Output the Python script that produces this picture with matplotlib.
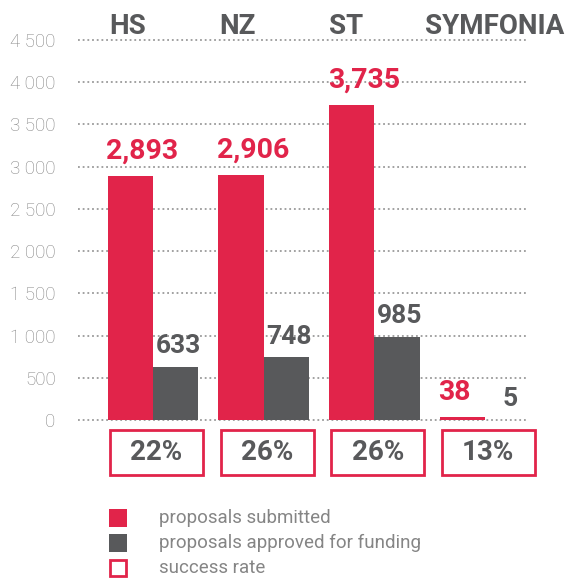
import matplotlib
matplotlib.use('Agg')
import matplotlib.pyplot as plt
from matplotlib.patches import Rectangle
import numpy as np

# Data
categories = ['HS', 'NZ', 'ST', 'SYMFONIA']
submitted = [2893, 2906, 3735, 38]
approved = [633, 748, 985, 5]
success_rate = ['22%', '26%', '26%', '13%']
y_ticks = [0, 500, 1000, 1500, 2000, 2500, 3000, 3500, 4000, 4500]
legend_labels = ['proposals submitted', 'proposals approved for funding', 'success rate']

RED = '#e1244a'
GREY = '#58595b'
TICK = '#858585'

plt.rcParams['font.family'] = ['Roboto', 'DejaVu Sans']

fig = plt.figure(figsize=(5.68, 5.79), dpi=100)
ax = fig.add_axes([0.137, 0.2746, 0.791, 0.6563])

x = np.arange(len(categories))
w = 0.41
ax.bar(x - w / 2, submitted, w, color=RED, zorder=3)
ax.bar(x + w / 2, approved, w, color=GREY, zorder=3)

ax.set_xlim(-0.68, 3.38)
ax.set_ylim(0, 4500)
ax.set_yticks(y_ticks)
ax.set_yticklabels([f'{v:,}'.replace(',', ' ') for v in y_ticks],
                   color=TICK, fontsize=13.5, fontweight='light')
ax.tick_params(axis='y', length=0, pad=16)
ax.set_xticks([])
for s in ax.spines.values():
    s.set_visible(False)
for v in y_ticks:
    ax.axhline(v, color='#9a9a9a', lw=1.3, ls=(0, (1, 1.6)), zorder=1, clip_on=False)

# value labels
for i in range(len(categories)):
    ax.annotate(f'{submitted[i]:,}', (x[i] - w, submitted[i]), xytext=(-1, 8),
                textcoords='offset points', ha='left', va='bottom',
                color=RED, fontsize=20.5, fontweight='bold')
    ax.annotate(f'{approved[i]:,}', (x[i] + w / 2, approved[i]), xytext=(2, 6),
                textcoords='offset points', ha='center', va='bottom',
                color=GREY, fontsize=19, fontweight='bold')

# category titles above the plot
title_off = [-0.23, -0.24, -0.26, 0.09]
for i, c in enumerate(categories):
    ax.text(x[i] + title_off[i], 1.016, c, transform=ax.get_xaxis_transform(),
            ha='center', va='baseline', color=GREY, fontsize=20, fontweight='bold')

# success rate boxes under the bars
for i, r in enumerate(success_rate):
    ax.add_patch(Rectangle((x[i] - 0.39, -0.145), 0.84, 0.118,
                           transform=ax.get_xaxis_transform(), fill=False,
                           edgecolor=RED, lw=2, clip_on=False))
    ax.text(x[i] + 0.03, -0.086, r, transform=ax.get_xaxis_transform(),
            ha='center', va='center', color=GREY, fontsize=20, fontweight='bold')

# legend drawn by hand
fw, fh = 568, 579
sq = 18
legend_rows = [518, 543, 568]
for j, lab in enumerate(legend_labels):
    yc = legend_rows[j]
    if j == 0:
        p = Rectangle((109 / fw, (fh - yc - sq / 2) / fh), sq / fw, sq / fh,
                      transform=fig.transFigure, facecolor=RED, edgecolor='none')
    elif j == 1:
        p = Rectangle((109 / fw, (fh - yc - sq / 2) / fh), sq / fw, sq / fh,
                      transform=fig.transFigure, facecolor=GREY, edgecolor='none')
    else:
        p = Rectangle((110 / fw, (fh - yc - sq / 2 + 1) / fh), (sq - 2) / fw, (sq - 2) / fh,
                      transform=fig.transFigure, facecolor='white', edgecolor=RED, lw=2)
    fig.add_artist(p)
    fig.text(159 / fw, (fh - yc) / fh, lab, ha='left', va='center',
             color=TICK, fontsize=13.5)

fig.savefig('out.png', dpi=100)
